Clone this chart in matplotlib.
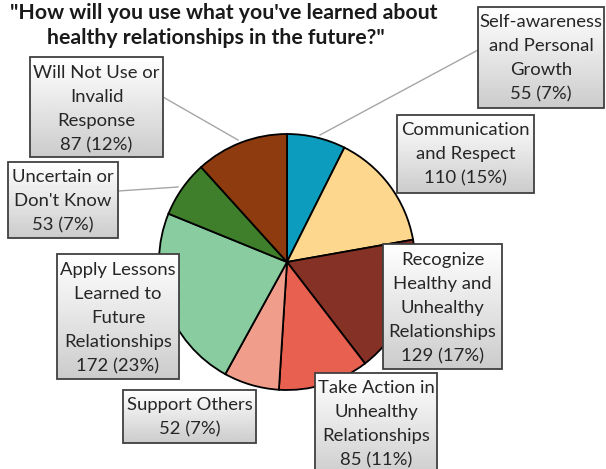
import numpy as np
import matplotlib.pyplot as plt
from matplotlib.patches import Rectangle

# Survey responses, clockwise from 12 o'clock
categories = [
    "Self-awareness\nand Personal\nGrowth",
    "Communication\nand Respect",
    "Recognize\nHealthy and\nUnhealthy\nRelationships",
    "Take Action in\nUnhealthy\nRelationships",
    "Support Others",
    "Apply Lessons\nLearned to\nFuture\nRelationships",
    "Uncertain or\nDon't Know",
    "Will Not Use or\nInvalid\nResponse",
]
counts = [55, 110, 129, 85, 52, 172, 53, 87]
percents = [7, 15, 17, 11, 7, 23, 7, 12]
colors = ["#0c9cbe", "#fdd78e", "#853126", "#e8604f",
          "#f09e8b", "#88cc9f", "#3f7e2b", "#8d3b0f"]

W, H = 606, 469

# label boxes in pixel coords: left, top, right, bottom
boxes = [
    (478, 7, 604, 108),
    (397, 115, 534, 193),
    (383, 244, 502, 369),
    (315, 373, 437, 480),
    (123, 390, 256, 443),
    (57, 254, 179, 379),
    (8, 162, 118, 238),
    (30, 57, 163, 157),
]
first_line = [22, 130, 260, 388, 405, 270, 177, 73]
leaders = {
    0: ((478, 50), (320, 135)),
    6: ((118, 191), (178, 187)),
    7: ((163, 97), (238, 140)),
}

fig = plt.figure(figsize=(W / 100, H / 100), dpi=100)
ax = fig.add_axes([0, 0, 1, 1])

# pie, y measured upwards
ax.pie(counts, colors=colors, center=(287, H - 262), radius=128,
       startangle=90, counterclock=False,
       wedgeprops=dict(edgecolor="black", linewidth=1.3))

ax.set_aspect("auto")
ax.axis("off")

# leader lines
for i, (p0, p1) in leaders.items():
    ax.plot([p0[0], p1[0]], [H - p0[1], H - p1[1]], color="#a6a6a6",
            lw=1.0, zorder=1)

# vertical white-to-grey gradient for the label boxes
grad = np.linspace(1.0, 0.80, 64).reshape(-1, 1)

for i, (l, t, r, b) in enumerate(boxes):
    img = ax.imshow(grad, cmap="gray", vmin=0, vmax=1, aspect="auto",
                    extent=(l, r, H - b, H - t), zorder=3, interpolation="bilinear")
    rect = Rectangle((l, H - b), r - l, b - t, facecolor="none",
                     edgecolor="#404040", lw=1.3, zorder=4)
    ax.add_patch(rect)
    img.set_clip_path(rect)
    lines = f"{categories[i]}\n{counts[i]} ({percents[i]}%)".split("\n")
    for k, line in enumerate(lines):
        ax.text((l + r) / 2, H - (first_line[i] + 24 * k), line,
                ha="center", va="center", fontsize=13.3, family="Lato",
                color="#262626", zorder=5)

# title
ax.text(437, H - 13, "\"How will you use what you've learned about",
        ha="right", va="center", fontsize=15.3, weight="bold",
        family="Lato", color="#1a1a1a")
ax.text(385, H - 38, "healthy relationships in the future?\"",
        ha="right", va="center", fontsize=15.3, weight="bold",
        family="Lato", color="#1a1a1a")

ax.set_xlim(0, W)
ax.set_ylim(0, H)

fig.savefig("out.png", dpi=100)
